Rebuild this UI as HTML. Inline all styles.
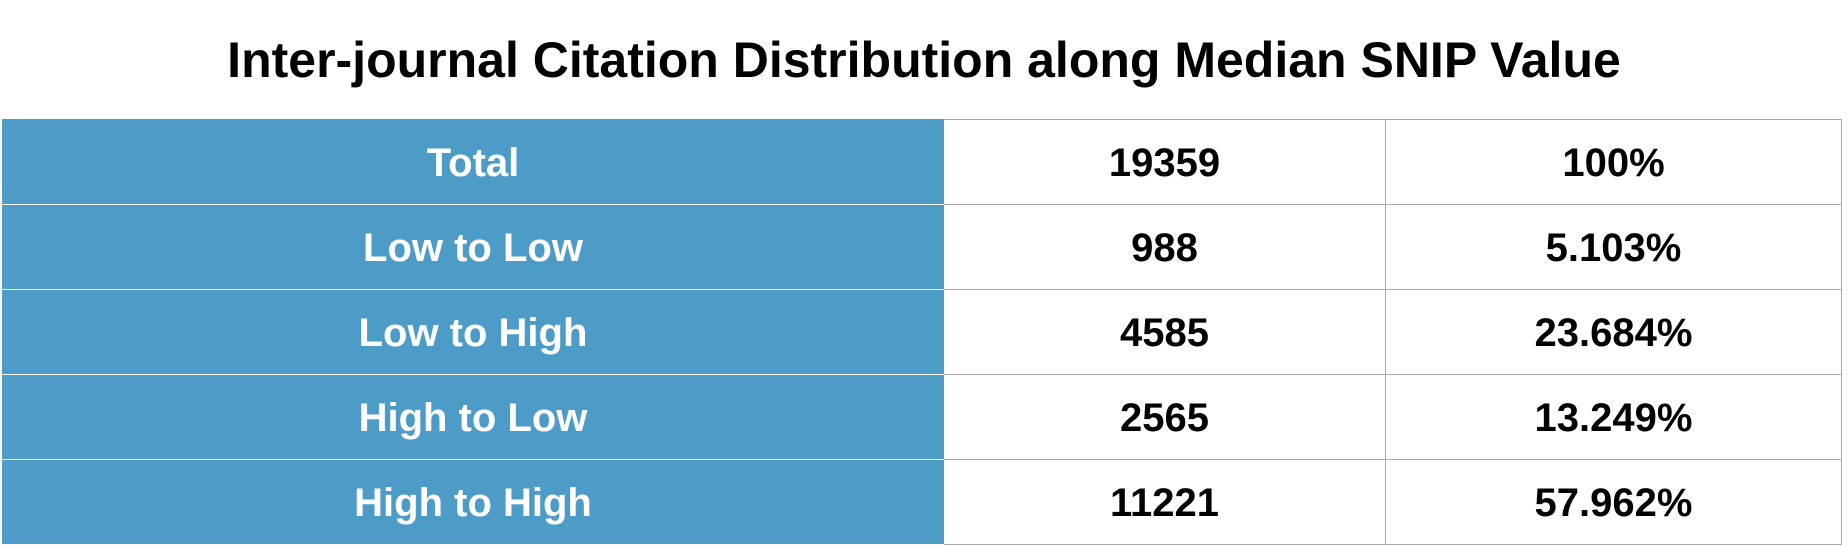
<!DOCTYPE html>
<html><head><meta charset="utf-8"><style>
body{margin:0;width:1848px;height:546px;background:#fff;font-family:"Liberation Sans",sans-serif;overflow:hidden;position:relative}
h1{position:absolute;left:0;width:1848px;top:31px;margin:0;text-align:center;font-size:50px;font-weight:bold;color:#000}
table{position:absolute;left:2px;top:119px;border-collapse:collapse;width:1840px}
td{height:85px;border:1px solid #aaa;text-align:center;font-size:40px;font-weight:bold;color:#000;padding:3px 0 0 0;box-sizing:border-box}
td.h{background:#4d9cc8;color:#fff;border-color:#4d9cc8;border-bottom:1.5px solid #fff;width:941px}
td.v{width:442px}
</style></head><body>
<h1>Inter-journal Citation Distribution along Median SNIP Value</h1>
<table><tbody id="tb"></tbody></table>
<script>
const categories=["Total","Low to Low","Low to High","High to Low","High to High"];
const counts=[19359,988,4585,2565,11221];
const percents=["100%","5.103%","23.684%","13.249%","57.962%"];
const tb=document.getElementById('tb');
categories.forEach((c,i)=>{
 const tr=document.createElement('tr');
 
 
 const a=document.createElement('td');a.className='h';a.textContent=c;
 
 
 const b=document.createElement('td');b.className='v';b.textContent=counts[i];
 
 
 const d=document.createElement('td');d.textContent=percents[i];
 
 
 tr.append(a,b,d);tb.appendChild(tr);
});
</script>
</body></html>
